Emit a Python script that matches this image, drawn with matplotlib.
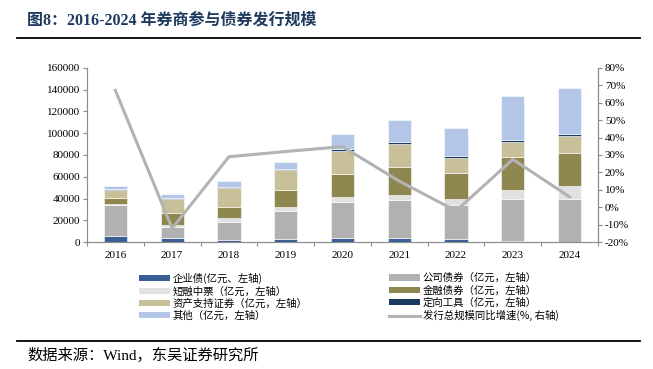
import matplotlib

matplotlib.use("Agg")
import matplotlib.pyplot as plt
import numpy as np
from matplotlib.lines import Line2D
from matplotlib.patches import Patch
from matplotlib.ticker import FuncFormatter, MultipleLocator

plt.rcParams["font.family"] = ["Liberation Serif", "Noto Sans CJK SC", "DejaVu Sans"]

years = ["2016", "2017", "2018", "2019", "2020", "2021", "2022", "2023", "2024"]
# issuance by type (亿元), bottom to top
qiyezhai = [5800, 4000, 2100, 3400, 4000, 4000, 3100, 1500, 600]
gongsizhai = [28100, 10300, 16200, 25600, 33200, 34500, 30800, 38500, 39100]
duanrong = [1200, 1600, 3700, 3400, 4000, 5200, 5500, 8200, 11900]
jinrongzhai = [5800, 11000, 10700, 15200, 21700, 25300, 24400, 29600, 30500]
abs_ = [6700, 12800, 17400, 18300, 21100, 21100, 13400, 14100, 15600]
dingxiang = [1200, 1200, 900, 1300, 1500, 2100, 2200, 1800, 1800]
qita = [2500, 3100, 5200, 6400, 13400, 19500, 25600, 40000, 42200]
# yoy growth of total issuance (%, right axis)
growth = [67, -12, 29, 32, 34.8, 15, -2, 27.5, 6]

series = [
    (qiyezhai, "#3A5F96", "企业债(亿元、左轴)"),
    (gongsizhai, "#B1B1B1", "公司债券（亿元，左轴）"),
    (duanrong, "#E1E1E1", "短融中票（亿元，左轴）"),
    (jinrongzhai, "#8F8750", "金融债券（亿元，左轴）"),
    (abs_, "#C7C098", "资产支持证券（亿元，左轴）"),
    (dingxiang, "#1B3A60", "定向工具（亿元，左轴）"),
    (qita, "#B3C6E7", "其他（亿元，左轴）"),
]
line_label = "发行总规模同比增速(%, 右轴)"
line_color = "#B3B3B3"
spine_color = "#8C8C8C"

fig = plt.figure(figsize=(6.53, 3.69), dpi=100)
ax = fig.add_axes([0.1332, 0.3434, 0.7826, 0.4731])
x = np.arange(len(years))
bottom = np.zeros(len(years))
for vals, col, lab in series:
    ax.bar(x, vals, 0.41, bottom=bottom, color=col, edgecolor="white", linewidth=0.4, zorder=2)
    bottom += np.array(vals)

ax.set_xlim(-0.5, len(years) - 0.5)
ax.set_ylim(0, 160000)
ax.yaxis.set_major_locator(MultipleLocator(20000))
ax.set_xticks(x)
ax.set_xticklabels(years)
ax.set_xticks(np.arange(-0.5, len(years)), minor=True)
ax.tick_params(axis="x", which="major", length=0, pad=6, labelsize=8)
ax.tick_params(axis="x", which="minor", length=3, color=spine_color, width=0.8)
ax.tick_params(axis="y", length=3, color=spine_color, width=0.8, labelsize=8, pad=2)
ax.spines["top"].set_visible(False)
for s in ["left", "bottom", "right"]:
    ax.spines[s].set_color(spine_color)
    ax.spines[s].set_linewidth(0.8)

ax2 = ax.twinx()
ax2.plot(x, growth, color=line_color, lw=2.2, zorder=3)
ax2.set_ylim(-20, 80)
ax2.yaxis.set_major_locator(MultipleLocator(10))
ax2.yaxis.set_major_formatter(FuncFormatter(lambda v, p: f"{v:.0f}%"))
ax2.tick_params(axis="y", length=3, color=spine_color, width=0.8, labelsize=8, pad=2)
ax2.spines["top"].set_visible(False)
for s in ["left", "bottom", "right"]:
    ax2.spines[s].set_color(spine_color)
    ax2.spines[s].set_linewidth(0.8)

# legend: two hand-placed columns
handles = [Patch(facecolor=c, edgecolor="none", label=l) for _, c, l in series]
line_h = Line2D([0], [0], color=line_color, lw=2.2, label=line_label)
left_col = [handles[0], handles[2], handles[4], handles[6]]
right_col = [handles[1], handles[3], handles[5], line_h]
leg_kw = dict(frameon=False, handlelength=3.0, handleheight=0.55,
              handletextpad=0.25, labelspacing=0.2, borderpad=0, borderaxespad=0,
              prop={"family": ["Noto Sans CJK SC", "DejaVu Sans"], "size": 7.5})
fig.legend(handles=left_col, loc="upper left", bbox_to_anchor=(139 / 653, 1 - 273 / 369), **leg_kw)
fig.legend(handles=right_col, loc="upper left", bbox_to_anchor=(389 / 653, 1 - 273 / 369), **leg_kw)

# title, rules and source
fig.text(27 / 653, 1 - 21 / 369, "图8：2016-2024 年券商参与债券发行规模", fontsize=11.5,
         fontweight="bold", color="#1F3A5F", va="center", ha="left",
         family=["Liberation Serif", "Noto Sans CJK SC"])
fig.add_artist(Line2D([17 / 653, 640 / 653], [1 - 37.7 / 369] * 2, color="black", lw=1.3))
fig.add_artist(Line2D([17 / 653, 640 / 653], [1 - 341 / 369] * 2, color="black", lw=1.3))
fig.text(27 / 653, 1 - 355 / 369, "数据来源：Wind，东吴证券研究所", fontsize=11, va="center", ha="left",
         family=["Liberation Serif", "Noto Sans CJK SC"])

fig.savefig("out.png", dpi=100)
